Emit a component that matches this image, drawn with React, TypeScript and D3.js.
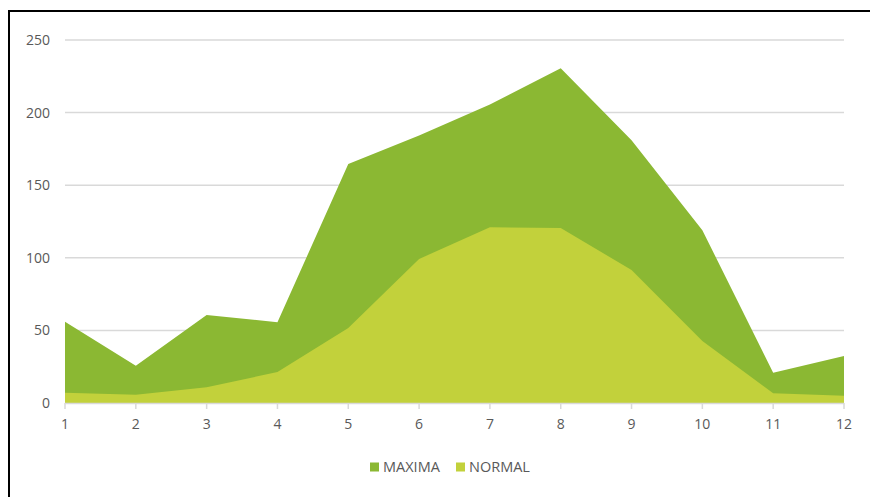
import React from "react";
import * as d3 from "d3";

// months 1..12
const categories = ["1", "2", "3", "4", "5", "6", "7", "8", "9", "10", "11", "12"];
const maxima = [56, 25.7, 60.6, 55.6, 164.6, 184.3, 205.5, 230.5, 181, 119, 20.9, 32.4];
const normal = [7.1, 5.7, 10.8, 21.3, 51.7, 99.2, 121, 120.5, 91.6, 42.7, 6.7, 5.0];
const yTicks = [0, 50, 100, 150, 200, 250];
const seriesNames = ["MAXIMA", "NORMAL"];
const seriesColors = ["#8bb833", "#c2d13b"];

export default function App() {
  const ref = React.useRef<SVGSVGElement>(null);

  React.useEffect(() => {
    drawChart();
  }, []);

  function drawChart() {
    const svg = d3.select(ref.current);
    svg.selectAll("*").remove();

    const font = "'Open Sans', 'Segoe UI', sans-serif";
    const textColor = "#595959";

    const x = d3.scalePoint().domain(categories).range([65, 844]);
    const y = d3.scaleLinear().domain([0, 250]).range([403, 40]);

    // frame (only top & left visible in the window)
    svg.append("path")
      .attr("d", "M9,497 L9,11 L870,11")
      .attr("fill", "none")
      .attr("stroke", "#000")
      .attr("stroke-width", 2);

    // gridlines
    svg.append("g")
      .selectAll("line")
      .data(yTicks.filter((t) => t > 0))
      .enter()
      .append("line")
      .attr("x1", x.range()[0])
      .attr("x2", x.range()[1])
      .attr("y1", (d) => y(d))
      .attr("y2", (d) => y(d))
      .attr("stroke", "#d9d9d9")
      .attr("stroke-width", 1.5);

    // y labels
    svg.append("g")
      .selectAll("text")
      .data(yTicks)
      .enter()
      .append("text")
      .attr("x", 50)
      .attr("y", (d) => y(d))
      .attr("dy", "0.35em")
      .attr("text-anchor", "end")
      .attr("font-family", font)
      .attr("font-size", 14)
      .attr("fill", textColor)
      .text((d) => d);

    const series = [maxima, normal];
    series.forEach((vals, i) => {
      const area = d3
        .area<number>()
        .x((d, j) => x(categories[j]) as number)
        .y0(y(0))
        .y1((d) => y(d));
      svg.append("path")
        .datum(vals)
        .attr("d", area)
        .attr("fill", seriesColors[i]);
    });

    // x axis line + ticks
    svg.append("line")
      .attr("x1", x.range()[0])
      .attr("x2", x.range()[1])
      .attr("y1", y(0) + 0.5)
      .attr("y2", y(0) + 0.5)
      .attr("stroke", "#d9d9d9")
      .attr("stroke-width", 1.5);

    svg.append("g")
      .selectAll("line")
      .data(categories)
      .enter()
      .append("line")
      .attr("x1", (d) => x(d) as number)
      .attr("x2", (d) => x(d) as number)
      .attr("y1", y(0))
      .attr("y2", y(0) + 6)
      .attr("stroke", "#d9d9d9")
      .attr("stroke-width", 1.5);

    svg.append("g")
      .selectAll("text")
      .data(categories)
      .enter()
      .append("text")
      .attr("x", (d) => x(d) as number)
      .attr("y", 424)
      .attr("dy", "0.35em")
      .attr("text-anchor", "middle")
      .attr("font-family", font)
      .attr("font-size", 14)
      .attr("fill", textColor)
      .text((d) => d);

    // legend
    const legendX = [370, 456];
    const legend = svg.append("g")
      .selectAll("g")
      .data(seriesNames)
      .enter()
      .append("g")
      .attr("transform", (d, i) => `translate(${legendX[i]},467)`);
    legend.append("rect")
      .attr("x", 0)
      .attr("y", -4.5)
      .attr("width", 9)
      .attr("height", 9)
      .attr("fill", (d, i) => seriesColors[i]);
    legend.append("text")
      .attr("x", 13)
      .attr("y", 0)
      .attr("dy", "0.35em")
      .attr("font-family", font)
      .attr("font-size", 14.5)
      .attr("fill", textColor)
      .text((d) => d);
  }

  return (
    <svg
      ref={ref}
      width={870}
      height={497}
      style={{ position: "absolute", left: 0, top: 0, display: "block" }}
    />
  );
}
